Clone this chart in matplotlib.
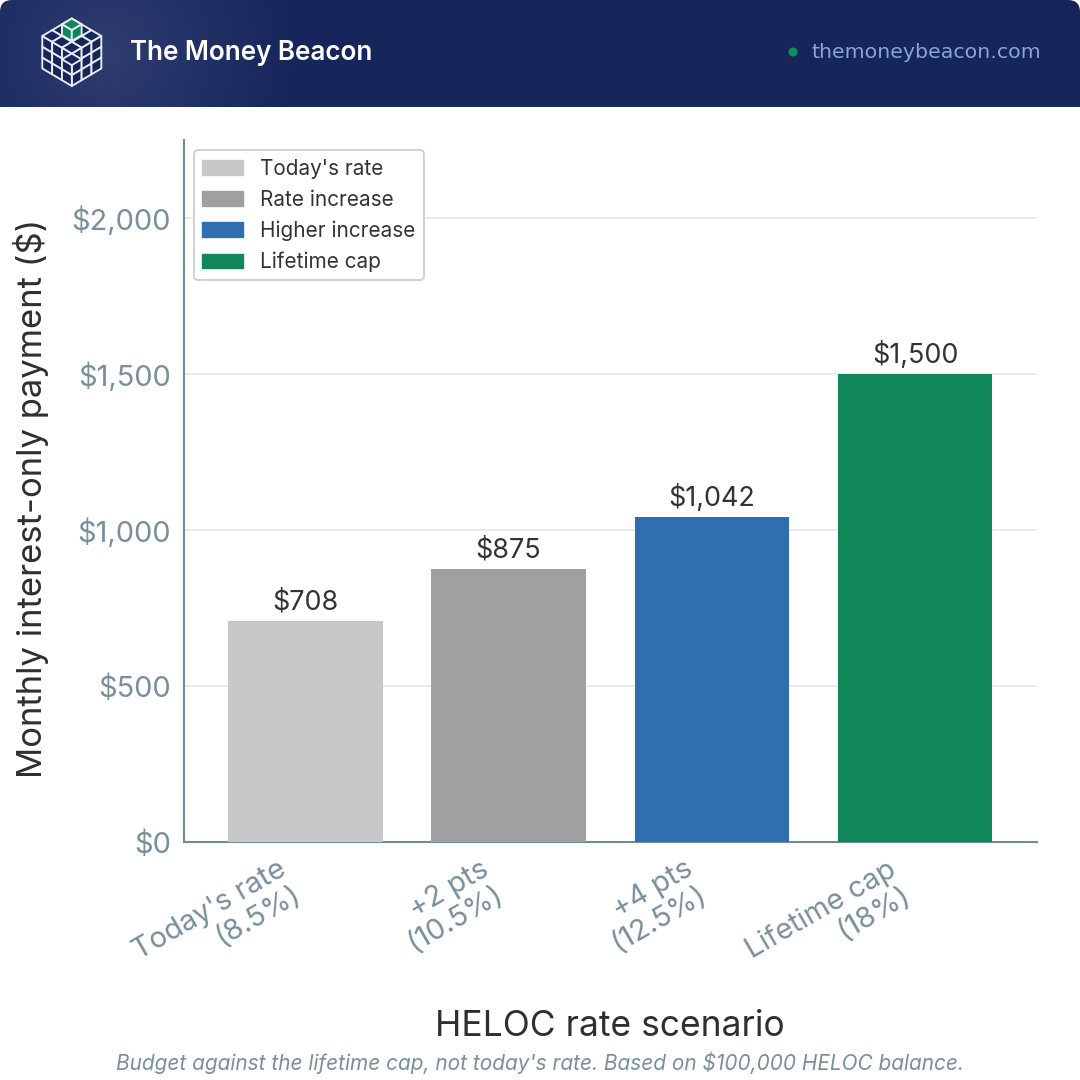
import numpy as np
import matplotlib
matplotlib.use("Agg")
import matplotlib.pyplot as plt
from matplotlib.colors import LinearSegmentedColormap
from matplotlib.patches import Polygon, Circle, Patch, FancyBboxPatch

plt.rcParams['font.family'] = ['Inter', 'DejaVu Sans']

categories = ["Today's rate\n(8.5%)", "+2 pts\n(10.5%)", "+4 pts\n(12.5%)", "Lifetime cap\n(18%)"]
payments = [708, 875, 1042, 1500]
value_labels = ["$708", "$875", "$1,042", "$1,500"]
legend_labels = ["Today's rate", "Rate increase", "Higher increase", "Lifetime cap"]
colors = ["#C8C8C8", "#A0A0A0", "#2F6FB0", "#0F8758"]
yticks = [0, 500, 1000, 1500, 2000]
ytick_labels = ["$0", "$500", "$1,000", "$1,500", "$2,000"]

S = 1080
fig = plt.figure(figsize=(10.8, 10.8), dpi=100, facecolor="white")

def P(l, t, r, b):
    return [l / S, 1 - b / S, (r - l) / S, (b - t) / S]

ax = fig.add_axes(P(184, 140, 1037, 842))
ax.bar(range(4), payments, width=0.76, color=colors, zorder=3)
ax.set_xlim(-0.597, 3.60)
ax.set_ylim(0, 2250)
ax.set_yticks(yticks, ytick_labels)
ax.set_xticks(range(4), categories)
ax.grid(axis='y', color="#E8EAEC", lw=1.4, zorder=0)
ax.set_axisbelow(True)
for s in ('top', 'right'):
    ax.spines[s].set_visible(False)
for s in ('left', 'bottom'):
    ax.spines[s].set_color("#6F8A9A")
    ax.spines[s].set_linewidth(1.5)
ax.tick_params(axis='both', length=0)
ax.tick_params(axis='y', labelsize=29 * 0.72, labelcolor="#78909C", pad=9.5)
ax.tick_params(axis='x', labelsize=29 * 0.72, labelcolor="#78909C", pad=10)
for t in ax.get_xticklabels():
    t.set_rotation(30)
    t.set_ha('right')
    t.set_va('top')
    t.set_linespacing(1.1)
for i, (v, lab) in enumerate(zip(payments, value_labels)):
    ax.annotate(lab, (i, v), xytext=(0, 3.8), textcoords='offset points', ha='center', va='bottom',
                fontsize=27 * 0.72, color="#333333", zorder=5)

fig.text(31 / S, 1 - 498 / S, "Monthly interest-only payment ($)", rotation=90, ha='center', va='center',
         fontsize=34.7 * 0.72, color="#2F2F2F")
fig.text(610 / S, 1 - 1027 / S, "HELOC rate scenario", ha='center', va='center', fontsize=35.4 * 0.72, color="#2F2F2F")
fig.text(540 / S, 1 - 1063 / S, "Budget against the lifetime cap, not today's rate. Based on $100,000 HELOC balance.",
         ha='center', va='center', fontsize=20.8 * 0.72, style='italic', color="#78909C")

handles = [Patch(color=c, label=l) for c, l in zip(colors, legend_labels)]
leg = ax.legend(handles=handles, loc='upper left', bbox_to_anchor=(-0.001, 1.0), fontsize=20.8 * 0.72,
                labelcolor="#333333", framealpha=1, edgecolor="#CCD2D6", fancybox=True,
                borderaxespad=0.5, handlelength=2.0, handletextpad=0.8, labelspacing=0.52)
leg.set_zorder(10)
leg.get_frame().set_linewidth(1.4)

# header band in pixel coordinates
hx = fig.add_axes([0, 0, 1, 1], zorder=20)
hx.axis('off')
hx.patch.set_alpha(0)
yy, xx = np.mgrid[0:107, 0:1080]
glow = np.clip(1 - np.hypot((xx - 108) / 190, (yy - 53) / 200), 0, 1)
cmap = LinearSegmentedColormap.from_list("hdr", ["#16265A", "#2E3C70"])
im = hx.imshow(glow, extent=(0, 1080, 107, 0), cmap=cmap, vmin=0, vmax=1, aspect='auto', zorder=1,
               interpolation='bilinear')
hx.set_xlim(0, S)
hx.set_ylim(S, 0)
clip = FancyBboxPatch((0, 0), 1080, 140, boxstyle="round,pad=0,rounding_size=12", transform=hx.transData,
                      fc='none', ec='none')
hx.add_patch(clip)
im.set_clip_path(clip)

u = np.array([29.5, 17.5]) / 3
v = np.array([-29.5, 17.5]) / 3
w = np.array([0.0, 32.5]) / 3
apex = np.array([71.8, 18.5])
navy = "#16265A"
line = "#E8ECF5"
def quad(o, a, b, fc, z=3):
    pts = [o, o + a, o + a + b, o + b]
    hx.add_patch(Polygon(pts, closed=True, fc=fc, ec=line, lw=1.35, zorder=z, joinstyle='round'))
for i in range(3):
    for j in range(3):
        quad(apex + i * u + j * v, u, v, navy)
        quad(apex + 3 * v + i * u + j * w, u, w, navy)
        quad(apex + 3 * v + 3 * u + i * (-v) + j * w, -v, w, navy)
g = "#0F8758"
quad(apex, u, v, g)
quad(apex + v, u, w, g)
quad(apex + u + v, -v, w, "#0F8758")
F = apex + 3 * u + 3 * v
quad(F, u, v, navy, z=3.5)

hx.text(129.5, 53, "The Money Beacon", color="white", fontsize=26 * 0.72, weight='semibold', va='center', ha='left', zorder=4)
hx.add_patch(Circle((793, 52), 4.5, fc="#0F8F5A", ec='none', zorder=4))
hx.text(811, 53, "themoneybeacon.com", color="#86A5D6", fontsize=20.5 * 0.72, family='DejaVu Sans', va='center', ha='left', zorder=4)

fig.savefig("out.png", dpi=100, facecolor="white")
